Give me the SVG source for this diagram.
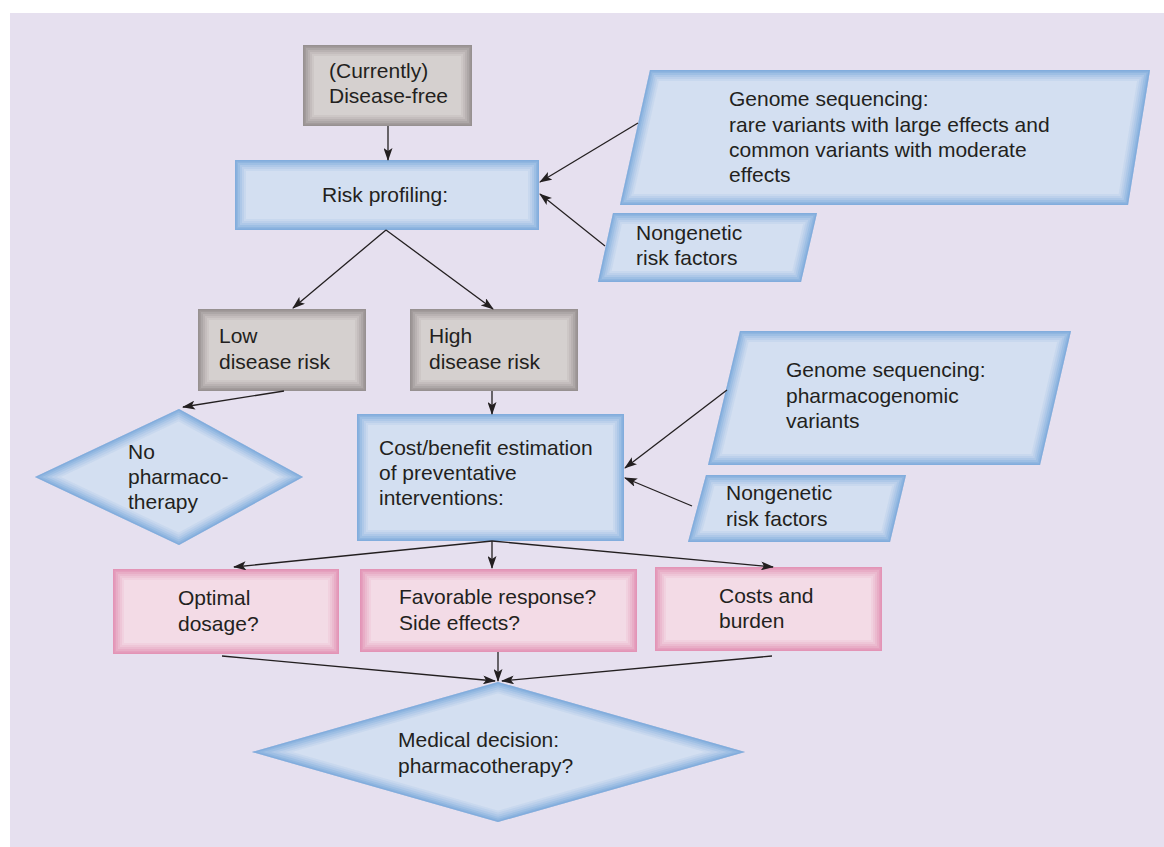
<svg xmlns="http://www.w3.org/2000/svg" xmlns:xlink="http://www.w3.org/1999/xlink" width="1164" height="847" viewBox="0 0 1164 847">
<style>
text{font-family:"Liberation Sans",Arial,sans-serif;font-size:21px;fill:#231f20}
.blue{fill:#d3dff1;stroke:#6a9fd8}
.gray{fill:#d5d0cf;stroke:#857e7e}
.pink{fill:#f3dbe6;stroke:#e07fa8}
.f{stroke:none}
.e0{fill:none;stroke-width:22;stroke-opacity:.1}
.e1{fill:none;stroke-width:18;stroke-opacity:.12}
.e2{fill:none;stroke-width:14;stroke-opacity:.16}
.e3{fill:none;stroke-width:10;stroke-opacity:.22}
.e4{fill:none;stroke-width:6;stroke-opacity:.28}
.e5{fill:none;stroke-width:3;stroke-opacity:.35}
.con line{stroke:#231f20;stroke-width:1.3;fill:none;marker-end:url(#ah)}
</style>
<defs>
<marker id="ah" markerWidth="13" markerHeight="9" refX="12" refY="4.5" orient="auto" markerUnits="userSpaceOnUse">
<path d="M0,0 L13,4.5 L0,9 L3,4.5 z" fill="#231f20"/>
</marker>
<rect id="s1" x="303" y="45" width="169" height="81"/>
<rect id="s2" x="235" y="160" width="304" height="70"/>
<polygon id="s3" points="650,70 1150,70 1128,205 620,205"/>
<polygon id="s4" points="613,213 817,213 801,282 598,282"/>
<rect id="s5" x="198" y="309" width="168" height="82"/>
<rect id="s6" x="410" y="309" width="168" height="82"/>
<polygon id="s7" points="179,409 303,477 179,545 35,477"/>
<rect id="s8" x="357" y="414" width="267" height="127"/>
<polygon id="s9" points="740,331 1071,331 1040,465 708,465"/>
<polygon id="s10" points="706,475 906,475 890,542 688,542"/>
<rect id="s11" x="113" y="569" width="226" height="85"/>
<rect id="s12" x="360" y="569" width="277" height="83"/>
<rect id="s13" x="655" y="567" width="227" height="84"/>
<polygon id="s14" points="498,682 745,752 498,822 252,752"/>
<clipPath id="c1"><use href="#s1" xlink:href="#s1"/></clipPath>
<clipPath id="c2"><use href="#s2" xlink:href="#s2"/></clipPath>
<clipPath id="c3"><use href="#s3" xlink:href="#s3"/></clipPath>
<clipPath id="c4"><use href="#s4" xlink:href="#s4"/></clipPath>
<clipPath id="c5"><use href="#s5" xlink:href="#s5"/></clipPath>
<clipPath id="c6"><use href="#s6" xlink:href="#s6"/></clipPath>
<clipPath id="c7"><use href="#s7" xlink:href="#s7"/></clipPath>
<clipPath id="c8"><use href="#s8" xlink:href="#s8"/></clipPath>
<clipPath id="c9"><use href="#s9" xlink:href="#s9"/></clipPath>
<clipPath id="c10"><use href="#s10" xlink:href="#s10"/></clipPath>
<clipPath id="c11"><use href="#s11" xlink:href="#s11"/></clipPath>
<clipPath id="c12"><use href="#s12" xlink:href="#s12"/></clipPath>
<clipPath id="c13"><use href="#s13" xlink:href="#s13"/></clipPath>
<clipPath id="c14"><use href="#s14" xlink:href="#s14"/></clipPath>
</defs>
<rect x="0" y="0" width="1164" height="847" fill="#ffffff"/>
<rect x="10" y="13" width="1154" height="834" fill="#e6e0ef"/>

<g id="disease-free">
<g class="gray" clip-path="url(#c1)"><use href="#s1" class="f"/><use href="#s1" class="e0"/><use href="#s1" class="e1"/><use href="#s1" class="e2"/><use href="#s1" class="e3"/><use href="#s1" class="e4"/><use href="#s1" class="e5"/></g>
<text x="329" y="78">(Currently)</text>
<text x="329" y="103">Disease-free</text>
</g>
<g id="risk-profiling">
<g class="blue" clip-path="url(#c2)"><use href="#s2" class="f"/><use href="#s2" class="e0"/><use href="#s2" class="e1"/><use href="#s2" class="e2"/><use href="#s2" class="e3"/><use href="#s2" class="e4"/><use href="#s2" class="e5"/></g>
<text x="322" y="202">Risk profiling:</text>
</g>
<g id="genome1">
<g class="blue" clip-path="url(#c3)"><use href="#s3" class="f"/><use href="#s3" class="e0"/><use href="#s3" class="e1"/><use href="#s3" class="e2"/><use href="#s3" class="e3"/><use href="#s3" class="e4"/><use href="#s3" class="e5"/></g>
<text x="729" y="106">Genome sequencing:</text>
<text x="729" y="132">rare variants with large effects and</text>
<text x="729" y="157">common variants with moderate</text>
<text x="729" y="182">effects</text>
</g>
<g id="nongenetic1">
<g class="blue" clip-path="url(#c4)"><use href="#s4" class="f"/><use href="#s4" class="e0"/><use href="#s4" class="e1"/><use href="#s4" class="e2"/><use href="#s4" class="e3"/><use href="#s4" class="e4"/><use href="#s4" class="e5"/></g>
<text x="636" y="240">Nongenetic</text>
<text x="636" y="265">risk factors</text>
</g>
<g id="low-risk">
<g class="gray" clip-path="url(#c5)"><use href="#s5" class="f"/><use href="#s5" class="e0"/><use href="#s5" class="e1"/><use href="#s5" class="e2"/><use href="#s5" class="e3"/><use href="#s5" class="e4"/><use href="#s5" class="e5"/></g>
<text x="219" y="343">Low</text>
<text x="219" y="369">disease risk</text>
</g>
<g id="high-risk">
<g class="gray" clip-path="url(#c6)"><use href="#s6" class="f"/><use href="#s6" class="e0"/><use href="#s6" class="e1"/><use href="#s6" class="e2"/><use href="#s6" class="e3"/><use href="#s6" class="e4"/><use href="#s6" class="e5"/></g>
<text x="429" y="343">High</text>
<text x="429" y="369">disease risk</text>
</g>
<g id="no-pharmaco">
<g class="blue" clip-path="url(#c7)"><use href="#s7" class="f"/><use href="#s7" class="e0"/><use href="#s7" class="e1"/><use href="#s7" class="e2"/><use href="#s7" class="e3"/><use href="#s7" class="e4"/><use href="#s7" class="e5"/></g>
<text x="128" y="459">No</text>
<text x="128" y="484">pharmaco-</text>
<text x="128" y="509">therapy</text>
</g>
<g id="cost-benefit">
<g class="blue" clip-path="url(#c8)"><use href="#s8" class="f"/><use href="#s8" class="e0"/><use href="#s8" class="e1"/><use href="#s8" class="e2"/><use href="#s8" class="e3"/><use href="#s8" class="e4"/><use href="#s8" class="e5"/></g>
<text x="379" y="455">Cost/benefit estimation</text>
<text x="379" y="480">of preventative</text>
<text x="379" y="505">interventions:</text>
</g>
<g id="genome2">
<g class="blue" clip-path="url(#c9)"><use href="#s9" class="f"/><use href="#s9" class="e0"/><use href="#s9" class="e1"/><use href="#s9" class="e2"/><use href="#s9" class="e3"/><use href="#s9" class="e4"/><use href="#s9" class="e5"/></g>
<text x="786" y="377">Genome sequencing:</text>
<text x="786" y="403">pharmacogenomic</text>
<text x="786" y="428">variants</text>
</g>
<g id="nongenetic2">
<g class="blue" clip-path="url(#c10)"><use href="#s10" class="f"/><use href="#s10" class="e0"/><use href="#s10" class="e1"/><use href="#s10" class="e2"/><use href="#s10" class="e3"/><use href="#s10" class="e4"/><use href="#s10" class="e5"/></g>
<text x="726" y="500">Nongenetic</text>
<text x="726" y="526">risk factors</text>
</g>
<g id="optimal">
<g class="pink" clip-path="url(#c11)"><use href="#s11" class="f"/><use href="#s11" class="e0"/><use href="#s11" class="e1"/><use href="#s11" class="e2"/><use href="#s11" class="e3"/><use href="#s11" class="e4"/><use href="#s11" class="e5"/></g>
<text x="178" y="605">Optimal</text>
<text x="178" y="631">dosage?</text>
</g>
<g id="favorable">
<g class="pink" clip-path="url(#c12)"><use href="#s12" class="f"/><use href="#s12" class="e0"/><use href="#s12" class="e1"/><use href="#s12" class="e2"/><use href="#s12" class="e3"/><use href="#s12" class="e4"/><use href="#s12" class="e5"/></g>
<text x="399" y="604">Favorable response?</text>
<text x="399" y="630">Side effects?</text>
</g>
<g id="costs">
<g class="pink" clip-path="url(#c13)"><use href="#s13" class="f"/><use href="#s13" class="e0"/><use href="#s13" class="e1"/><use href="#s13" class="e2"/><use href="#s13" class="e3"/><use href="#s13" class="e4"/><use href="#s13" class="e5"/></g>
<text x="719" y="603">Costs and</text>
<text x="719" y="628">burden</text>
</g>
<g id="medical-decision">
<g class="blue" clip-path="url(#c14)"><use href="#s14" class="f"/><use href="#s14" class="e0"/><use href="#s14" class="e1"/><use href="#s14" class="e2"/><use href="#s14" class="e3"/><use href="#s14" class="e4"/><use href="#s14" class="e5"/></g>
<text x="398" y="747">Medical decision:</text>
<text x="398" y="773">pharmacotherapy?</text>
</g>

<g id="connectors" class="con">
<line x1="388" y1="126" x2="388" y2="160"/>
<line x1="638" y1="123" x2="540" y2="182"/>
<line x1="605" y1="246" x2="540" y2="194"/>
<line x1="386" y1="230" x2="293" y2="308"/>
<line x1="386" y1="230" x2="493" y2="309"/>
<line x1="284" y1="391" x2="183" y2="407"/>
<line x1="492" y1="391" x2="492" y2="414"/>
<line x1="727" y1="390" x2="625" y2="468"/>
<line x1="692" y1="506" x2="625" y2="478"/>
<line x1="492" y1="541" x2="234" y2="567"/>
<line x1="492" y1="541" x2="492" y2="568"/>
<line x1="492" y1="541" x2="773" y2="567"/>
<line x1="222" y1="656" x2="495" y2="681"/>
<line x1="498" y1="652" x2="498" y2="681"/>
<line x1="772" y1="656" x2="502" y2="681"/>
</g>
</svg>
